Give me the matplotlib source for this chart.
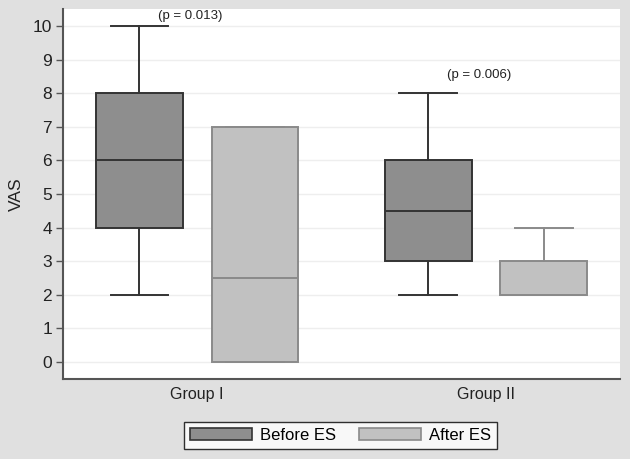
import matplotlib
matplotlib.use("Agg")
import matplotlib.pyplot as plt
from matplotlib.patches import Patch

plt.rcParams['font.family'] = ['Liberation Sans', 'DejaVu Sans']

groups = ["Group I", "Group II"]
series = ["Before ES", "After ES"]
# box stats per group: [whislo, q1, med, q3, whishi]
before_stats = [[2, 4, 6, 8, 10], [2, 3, 4.5, 6, 8]]
after_stats = [[0, 0, 2.5, 7, 7], [2, 2, 2, 3, 4]]
p_values = ["(p = 0.013)", "(p = 0.006)"]
p_heights = [10.3, 8.55]
yticks = list(range(0, 11))

group_centers = [1.5, 4.0]
offset = 0.5
colors = {"Before ES": ("#8e8e8e", "#333333"), "After ES": ("#c1c1c1", "#8a8a8a")}

fig = plt.figure(figsize=(6.3, 4.59), dpi=100, facecolor="#e0e0e0")
ax = fig.add_axes([0.1, 0.1743, 0.884, 0.806])
ax.set_facecolor("white")

def mk(s):
    return dict(whislo=s[0], q1=s[1], med=s[2], q3=s[3], whishi=s[4], fliers=[])

for name, stats, sgn in [("Before ES", before_stats, -1), ("After ES", after_stats, 1)]:
    fc, ec = colors[name]
    pos = [c + sgn * offset for c in group_centers]
    ax.bxp([mk(s) for s in stats], positions=pos, widths=0.75, capwidths=0.5,
           patch_artist=True, showfliers=False,
           boxprops=dict(facecolor=fc, edgecolor=ec, linewidth=1.4),
           medianprops=dict(color=ec, linewidth=1.4),
           whiskerprops=dict(color=ec, linewidth=1.4),
           capprops=dict(color=ec, linewidth=1.4), manage_ticks=False)

for c, t, h in zip(group_centers, p_values, p_heights):
    ax.text(c - 0.06, h, t, ha="center", va="center", fontsize=9.5, color="#222222")

ax.set_xlim(0.338, 5.16)
ax.set_ylim(-0.506, 10.506)
ax.set_yticks(yticks)
ax.set_yticklabels([str(v) for v in yticks], fontsize=12.5, color="#222222")
ax.set_xticks(group_centers)
ax.set_xticklabels(groups, fontsize=11.5, color="#222222")
ax.tick_params(axis="x", length=0, pad=6)
ax.tick_params(axis="y", length=5, width=1, color="#555555", pad=3)
ax.set_ylabel("VAS", fontsize=12.5, color="#222222", labelpad=6)
ax.grid(axis="y", color="#eeeeee", linewidth=1)
ax.set_axisbelow(True)
for s in ["top", "right"]:
    ax.spines[s].set_visible(False)
for s in ["left", "bottom"]:
    ax.spines[s].set_color("#555555")
    ax.spines[s].set_linewidth(1.5)

handles = [Patch(facecolor=colors[n][0], edgecolor=colors[n][1], linewidth=1.2, label=n) for n in series]
leg = fig.legend(handles=handles, loc="center", bbox_to_anchor=(0.541, 0.051), ncol=2,
                 fontsize=12, frameon=True, fancybox=False, edgecolor="black",
                 handlelength=3.7, handleheight=0.75, columnspacing=1.4, handletextpad=0.5,
                 borderpad=0.35, borderaxespad=0)
leg.get_frame().set_linewidth(1.0)

fig.savefig("out.png", dpi=100, facecolor=fig.get_facecolor())
